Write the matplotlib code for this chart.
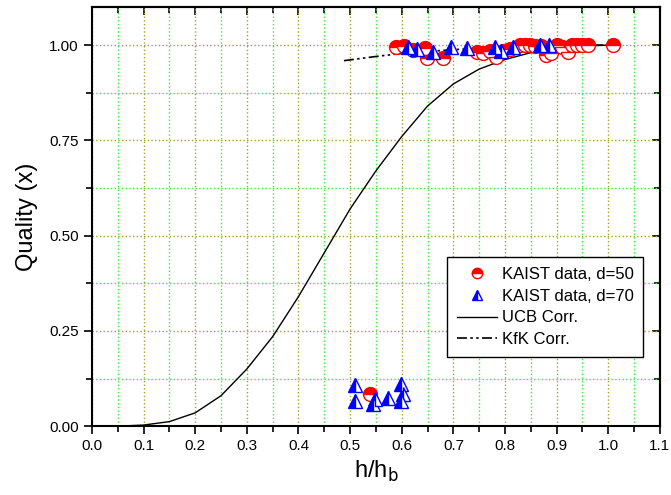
import matplotlib
matplotlib.use('Agg')
import matplotlib.pyplot as plt
from matplotlib.ticker import MultipleLocator, FormatStrFormatter, NullFormatter

plt.rcParams['font.family'] = ['Liberation Sans', 'DejaVu Sans']

# KAIST data, d=50
h_d50 = [0.589, 0.604, 0.622, 0.645, 0.648, 0.680, 0.745, 0.758, 0.770, 0.783,
         0.797, 0.809, 0.829, 0.839, 0.849, 0.859, 0.869, 0.880, 0.890, 0.900,
         0.910, 0.922, 0.930, 0.940, 0.950, 0.960, 1.009, 0.539]
x_d50 = [0.996, 0.998, 0.987, 0.992, 0.966, 0.966, 0.982, 0.979, 0.985, 0.969,
         0.985, 0.990, 1.000, 1.000, 1.000, 0.998, 0.998, 0.974, 0.980, 1.000,
         0.995, 0.982, 1.000, 1.000, 1.000, 1.000, 1.000, 0.084]

# KAIST data, d=70
h_d70 = [0.613, 0.629, 0.661, 0.695, 0.726, 0.780, 0.793, 0.815, 0.867, 0.886,
         0.509, 0.509, 0.544, 0.548, 0.573, 0.599, 0.602, 0.599]
x_d70 = [0.996, 0.990, 0.982, 0.996, 0.992, 0.996, 0.985, 0.996, 1.000, 1.000,
         0.108, 0.066, 0.058, 0.072, 0.073, 0.110, 0.084, 0.066]

# UCB correlation
h_ucb = [0.05, 0.10, 0.15, 0.20, 0.25, 0.30, 0.35, 0.40, 0.45, 0.50, 0.55,
         0.60, 0.65, 0.70, 0.75, 0.80, 0.85, 0.90, 0.95, 1.00]
x_ucb = [0.000, 0.003, 0.012, 0.035, 0.080, 0.150, 0.235, 0.340, 0.455, 0.570,
         0.670, 0.760, 0.840, 0.898, 0.937, 0.962, 0.980, 0.991, 0.997, 1.000]

# KfK correlation
h_kfk = [0.488, 0.55, 0.60, 0.70, 0.80, 0.90, 1.00]
x_kfk = [0.959, 0.970, 0.978, 0.988, 0.995, 0.999, 1.000]

fig = plt.figure(figsize=(6.71, 4.95), dpi=100)
ax = fig.add_axes([0.137, 0.139, 0.8465, 0.847])

ax.plot(h_d50, x_d50, linestyle='none', marker='o', markersize=10,
        color='red', fillstyle='top', markerfacecoloralt='white',
        markeredgecolor='red', markeredgewidth=1.0, label='KAIST data, d=50', zorder=3)
ax.plot(h_d70, x_d70, linestyle='none', marker='^', markersize=10,
        color='blue', fillstyle='left', markerfacecoloralt='white',
        markeredgecolor='blue', markeredgewidth=1.0, label='KAIST data, d=70', zorder=4)
ax.plot(h_ucb, x_ucb, color='black', linewidth=1.0, label='UCB Corr.', zorder=2)
ax.plot(h_kfk, x_kfk, color='black', linewidth=1.2,
        dashes=[6, 2, 1.5, 2, 1.5, 2], label='KfK Corr.', zorder=2)

ax.set_xlim(0.0, 1.1)
ax.set_ylim(0.0, 1.1)
ax.xaxis.set_major_locator(MultipleLocator(0.1))
ax.xaxis.set_minor_locator(MultipleLocator(0.05))
ax.yaxis.set_major_locator(MultipleLocator(0.25))
ax.yaxis.set_minor_locator(MultipleLocator(0.125))
ax.xaxis.set_major_formatter(FormatStrFormatter('%.1f'))
ax.yaxis.set_major_formatter(FormatStrFormatter('%.2f'))

ax.grid(which='major', color='#a0a030', linestyle=':', linewidth=1.0)
ax.grid(which='minor', color='#33ee33', linestyle=':', linewidth=1.0)
ax.set_axisbelow(True)

for s in ax.spines.values():
    s.set_linewidth(1.5)

ax.tick_params(which='both', direction='out', width=1.2, labelsize=11,
               top=False, right=False)
ax.tick_params(which='major', length=6)
ax.tick_params(which='minor', length=4)

# ticks pointing inward on the top and right sides
top = ax.secondary_xaxis('top')
right = ax.secondary_yaxis('right')
for sec, loc_major, loc_minor in ((top, 0.1, 0.05), (right, 0.25, 0.125)):
    axis = sec.xaxis if sec is top else sec.yaxis
    axis.set_major_locator(MultipleLocator(loc_major))
    axis.set_minor_locator(MultipleLocator(loc_minor))
    axis.set_major_formatter(NullFormatter())
    sec.tick_params(which='both', direction='in', width=1.2)
    sec.tick_params(which='major', length=6)
    sec.tick_params(which='minor', length=4)
    for s in sec.spines.values():
        s.set_linewidth(1.5)

ax.set_xlabel('h/h$_\\mathrm{b}$', fontsize=17, labelpad=4)
ax.set_ylabel('Quality (x)', fontsize=17, labelpad=8)

leg = ax.legend(loc='lower right', bbox_to_anchor=(0.971, 0.165), fontsize=12,
                fancybox=False, edgecolor='black', framealpha=1, markerscale=0.75,
                handlelength=2.4, borderpad=0.6, labelspacing=0.4,
                handletextpad=0.3, borderaxespad=0)
leg.get_frame().set_linewidth(1.0)

fig.savefig('out.png', dpi=100)
